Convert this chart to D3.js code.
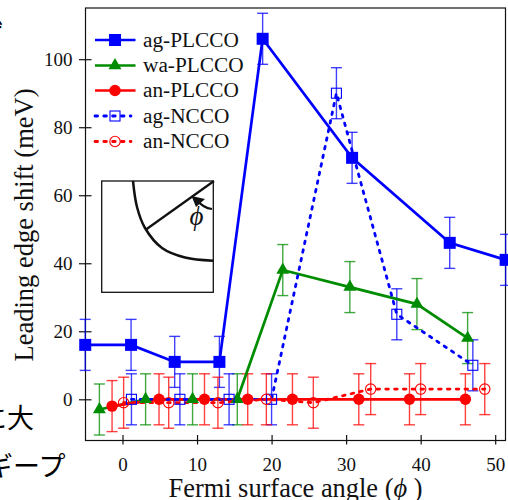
<!DOCTYPE html>
<html><head><meta charset="utf-8">
<script src="https://cdnjs.cloudflare.com/ajax/libs/d3/7.8.5/d3.min.js"></script>
<style>html,body{margin:0;padding:0;background:#fff}svg{display:block}text{font-family:"Liberation Serif",serif;fill:#111}</style>
</head><body><svg id="c" width="508" height="500"></svg>
<script>
const agPlccoX=[-5,1.15,7,13,18.8,30.8,43.9,51.4];
const agPlccoY=[16,16,11,11,106,71,46,41];
const waPlccoX=[-3.1,3.1,9.4,15.4,21.5,30.5,39.5,46.3];
const waPlccoY=[-3,0,0,0,38,33,28,18];
const anPlccoX=[-1.4,4.9,11,16.8,22.8,31.7,38.5,46];
const anPlccoY=[-2,0,0,0,0,0,0,0];
const agNccoX=[1.2,7.7,14.3,20,28.7,36.8,47];
const agNccoY=[0,0,0,0,90,25,10];
const anNccoX=[0.15,6.2,12.8,19.3,25.6,33.3,40,48.6];
const anNccoY=[-1,-1,-1,0,-1,3,3,3];
const errorHalf=7.5;
const xTicks=[0,10,20,30,40,50];
const yTicks=[0,20,40,60,80,100];
const legendLabels=["ag-PLCCO","wa-PLCCO","an-PLCCO","ag-NCCO","an-NCCO"];
const BLUE="#0000ff",GREEN="#008c00",RED="#ff0000";

const svg=d3.select("#c");
const x=d3.scaleLinear().domain([0,50]).range([122.5,495.2]);
const y=d3.scaleLinear().domain([0,100]).range([399.3,59.2]);
const L=85.5,R=505.5,T=8,B=440.5;

// stray fragments of surrounding page text
const stray=(t,xx,yy,fs)=>svg.append("text").attr("x",xx).attr("y",yy).attr("font-size",fs)
  .style("font-family",'"Noto Sans CJK JP"').style("fill","#000").text(t);
stray("に大",-20,428,27);
stray("ギープ",-14,476,27);
stray("ず",-24,45,28);

// frame
svg.append("rect").attr("x",L).attr("y",T).attr("width",R-L).attr("height",B-T)
  .attr("fill","none").attr("stroke","#111").attr("stroke-width",1.2);

// axes
const xAxis=d3.axisBottom(x).tickValues(xTicks).tickSize(4);
const xg=svg.append("g").attr("transform",`translate(0,${B})`).call(xAxis);
xg.select(".domain").remove();
xg.selectAll("line").attr("y1",-5.5).attr("y2",4).attr("stroke","#111").attr("stroke-width",1.2);
xg.selectAll("text").attr("font-size",19).attr("dy",0).attr("y",30).style("font-family",'"Liberation Serif"');
const yAxis=d3.axisLeft(y).tickValues(yTicks).tickSize(6);
const yg=svg.append("g").attr("transform",`translate(${L},0)`).call(yAxis);
yg.select(".domain").remove();
yg.selectAll("line").attr("x1",-6.5).attr("x2",6).attr("stroke","#111").attr("stroke-width",1.2);
yg.selectAll("text").attr("font-size",19).attr("x",-13).attr("dy","0.33em").style("font-family",'"Liberation Serif"');

// axis titles
const xt=svg.append("text").attr("x",295.5).attr("y",497).attr("text-anchor","middle").attr("font-size",26.4);
xt.append("tspan").text("Fermi surface angle (");
xt.append("tspan").attr("font-style","italic").text("\u03d5");
xt.append("tspan").text(" )");
svg.append("text").attr("transform","translate(33,225) rotate(-90)").attr("text-anchor","middle")
  .attr("font-size",26.5).text("Leading edge shift (meV)");

// series
function errs(xs,ys,color){
  const g=svg.append("g").attr("stroke",color).attr("stroke-opacity",.75).attr("stroke-width",1.4).attr("fill","none");
  xs.forEach((v,i)=>{
    const px=x(v),a=y(ys[i]+errorHalf),b=y(ys[i]-errorHalf);
    g.append("line").attr("x1",px).attr("x2",px).attr("y1",a).attr("y2",b);
    [a,b].forEach(q=>g.append("line").attr("x1",px-5.5).attr("x2",px+5.5).attr("y1",q).attr("y2",q));
  });
}
function path(xs,ys,color,dash){
  const l=d3.line().x(d=>x(d[0])).y(d=>y(d[1]));
  const p=svg.append("path").attr("d",l(xs.map((v,i)=>[v,ys[i]]))).attr("fill","none").attr("stroke",color).attr("stroke-width",2.7);
  if(dash)p.attr("stroke-dasharray","2.6 6.2").attr("stroke-linecap","round").attr("stroke-width",2.8);
}
function marker(g,kind,px,py){
  if(kind==="sf")g.append("rect").attr("x",px-6).attr("y",py-6).attr("width",12).attr("height",12).attr("fill",BLUE);
  if(kind==="tf")g.append("path").attr("d",d3.symbol(d3.symbolTriangle,72)()).attr("transform",`translate(${px},${py})`).attr("fill",GREEN);
  if(kind==="cf")g.append("circle").attr("cx",px).attr("cy",py).attr("r",5.7).attr("fill",RED);
  if(kind==="so")g.append("rect").attr("x",px-5).attr("y",py-5).attr("width",10).attr("height",10).attr("fill","none").attr("stroke",BLUE).attr("stroke-width",1.1);
  if(kind==="co")g.append("circle").attr("cx",px).attr("cy",py).attr("r",5.2).attr("fill","none").attr("stroke",RED).attr("stroke-width",1.1);
}
function marks(xs,ys,kind){const g=svg.append("g");xs.forEach((v,i)=>marker(g,kind,x(v),y(ys[i])));}

errs(agPlccoX,agPlccoY,BLUE);
errs(waPlccoX,waPlccoY,GREEN);
errs(anPlccoX,anPlccoY,RED);
errs(agNccoX,agNccoY,BLUE);
errs(anNccoX,anNccoY,RED);
path(agPlccoX,agPlccoY,BLUE);
path(waPlccoX,waPlccoY,GREEN);
path(anPlccoX,anPlccoY,RED);
path(agNccoX,agNccoY,BLUE,true);
path(anNccoX,anNccoY,RED,true);
marks(agPlccoX,agPlccoY,"sf");
marks(waPlccoX,waPlccoY,"tf");
marks(anPlccoX,anPlccoY,"cf");
marks(agNccoX,agNccoY,"so");
marks(anNccoX,anNccoY,"co");

// legend
const kinds=["sf","tf","cf","so","co"],colors=[BLUE,GREEN,RED,BLUE,RED];
const legY=[40,65.5,90.5,116,141.5];
const lg=svg.append("g");
legendLabels.forEach((t,i)=>{
  const ln=lg.append("line").attr("y1",legY[i]).attr("y2",legY[i]).attr("stroke",colors[i]);
  if(i<3)ln.attr("x1",95).attr("x2",135.5).attr("stroke-width",2.6);
  else ln.attr("x1",95).attr("x2",131).attr("stroke-width",2.8).attr("stroke-dasharray","2.6 6.2").attr("stroke-linecap","round");
  marker(lg,kinds[i],115,legY[i]);
  lg.append("text").attr("x",143).attr("y",legY[i]+6.5).attr("font-size",21.3).text(t);
});

// inset schematic
const ins=svg.append("g").attr("fill","none").attr("stroke","#111");
ins.append("rect").attr("x",101.7).attr("y",181).attr("width",111.6).attr("height",111.3).attr("stroke-width",1.3);
const cv=d3.line().curve(d3.curveCatmullRom);
ins.append("path").attr("d",cv([[133,181],[137,207],[145,228],[162,248],[185,257.5],[213,260.7]])).attr("stroke-width",2.5);
ins.append("line").attr("x1",146).attr("y1",229.5).attr("x2",214).attr("y2",181).attr("stroke-width",2.2);
ins.append("path").attr("d","M212,209 Q203,208 197,200").attr("stroke-width",2.2);
ins.append("path").attr("d","M191.5,196 L205,199 L196,207 Z").attr("fill","#111").attr("stroke","none");
svg.append("text").attr("x",196.5).attr("y",225).attr("text-anchor","middle").attr("font-size",27).attr("font-style","italic").text("\u03d5");
</script></body></html>
